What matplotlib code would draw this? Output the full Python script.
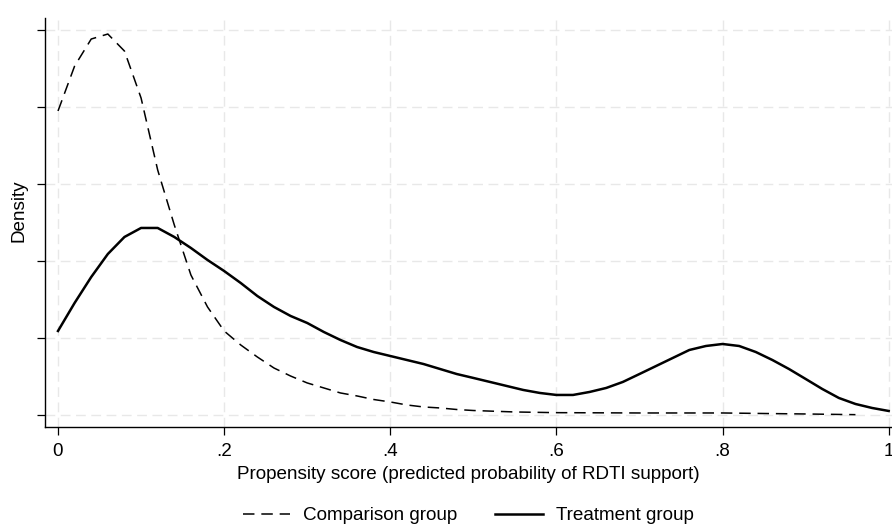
import matplotlib.pyplot as plt
import matplotlib.lines as mlines
import numpy as np

plt.rcParams['font.family'] = ['Liberation Sans', 'DejaVu Sans']

# kernel density estimates
treat_x = np.round(np.arange(0, 1.0001, 0.02), 2)
treat_y = [1.091, 1.455, 1.792, 2.091, 2.312, 2.429, 2.429, 2.312, 2.169, 2.013,
           1.870, 1.714, 1.545, 1.403, 1.286, 1.195, 1.078, 0.974, 0.883, 0.818,
           0.766, 0.714, 0.662, 0.597, 0.532, 0.481, 0.429, 0.377, 0.325, 0.286,
           0.260, 0.260, 0.299, 0.351, 0.429, 0.532, 0.636, 0.740, 0.844, 0.896,
           0.922, 0.896, 0.818, 0.714, 0.597, 0.468, 0.338, 0.221, 0.143, 0.091,
           0.052]

comp_x = [0.00, 0.02, 0.04, 0.06, 0.08, 0.10, 0.12, 0.14, 0.16, 0.18, 0.20,
          0.22, 0.24, 0.26, 0.28, 0.30, 0.32, 0.34, 0.36, 0.38, 0.40, 0.42,
          0.44, 0.46, 0.48, 0.50, 0.55, 0.60, 0.70, 0.80, 0.85, 0.90, 0.96]
comp_y = [3.948, 4.532, 4.883, 4.948, 4.727, 4.117, 3.182, 2.468, 1.818, 1.403,
          1.091, 0.909, 0.753, 0.610, 0.506, 0.416, 0.351, 0.286, 0.247, 0.201,
          0.169, 0.130, 0.104, 0.091, 0.071, 0.058, 0.039, 0.030, 0.026, 0.026,
          0.019, 0.013, 0.004]

x_ticks = [0, 0.2, 0.4, 0.6, 0.8, 1.0]
x_tick_labels = ['0', '.2', '.4', '.6', '.8', '1']
y_ticks = [0, 1, 2, 3, 4, 5]

fs = 13.6
dash = (0, (7.5, 4.5))

fig = plt.figure(figsize=(8.92, 5.25), dpi=100)
ax = fig.add_axes([0.0504, 0.1867, 0.9496, 0.779])

ax.plot(comp_x, comp_y, color='black', lw=1.1, ls=dash)
ax.plot(treat_x, treat_y, color='black', lw=1.8)

ax.set_xlim(-0.0157, 1.004)
ax.set_ylim(-0.156, 5.156)
ax.set_xticks(x_ticks)
ax.set_xticklabels(x_tick_labels, fontsize=fs)
ax.set_yticks(y_ticks)
ax.set_yticklabels([])
ax.tick_params(axis='both', direction='out', length=5.5, width=0.9, color='black')
ax.tick_params(axis='x', pad=6)

ax.grid(True, color='#e8e8e8', ls=(0, (7, 4)), lw=1.0)
ax.set_axisbelow(True)

for s in ['top', 'right']:
    ax.spines[s].set_visible(False)
for s in ['left', 'bottom']:
    ax.spines[s].set_linewidth(1.0)

ax.set_xlabel('Propensity score (predicted probability of RDTI support)', fontsize=fs, labelpad=4)
ax.set_ylabel('Density', fontsize=fs, va='center')
ax.yaxis.set_label_coords(-0.031, 0.528)

h1 = mlines.Line2D([], [], color='black', lw=1.1, ls=dash)
h2 = mlines.Line2D([], [], color='black', lw=1.8)
fig.legend([h1, h2], ['Comparison group', 'Treatment group'], loc='center',
           bbox_to_anchor=(0.525, 0.018), ncol=2, frameon=False, fontsize=fs,
           handlelength=2.5, columnspacing=2.0, handletextpad=0.7)

fig.savefig('out.png', dpi=100)
